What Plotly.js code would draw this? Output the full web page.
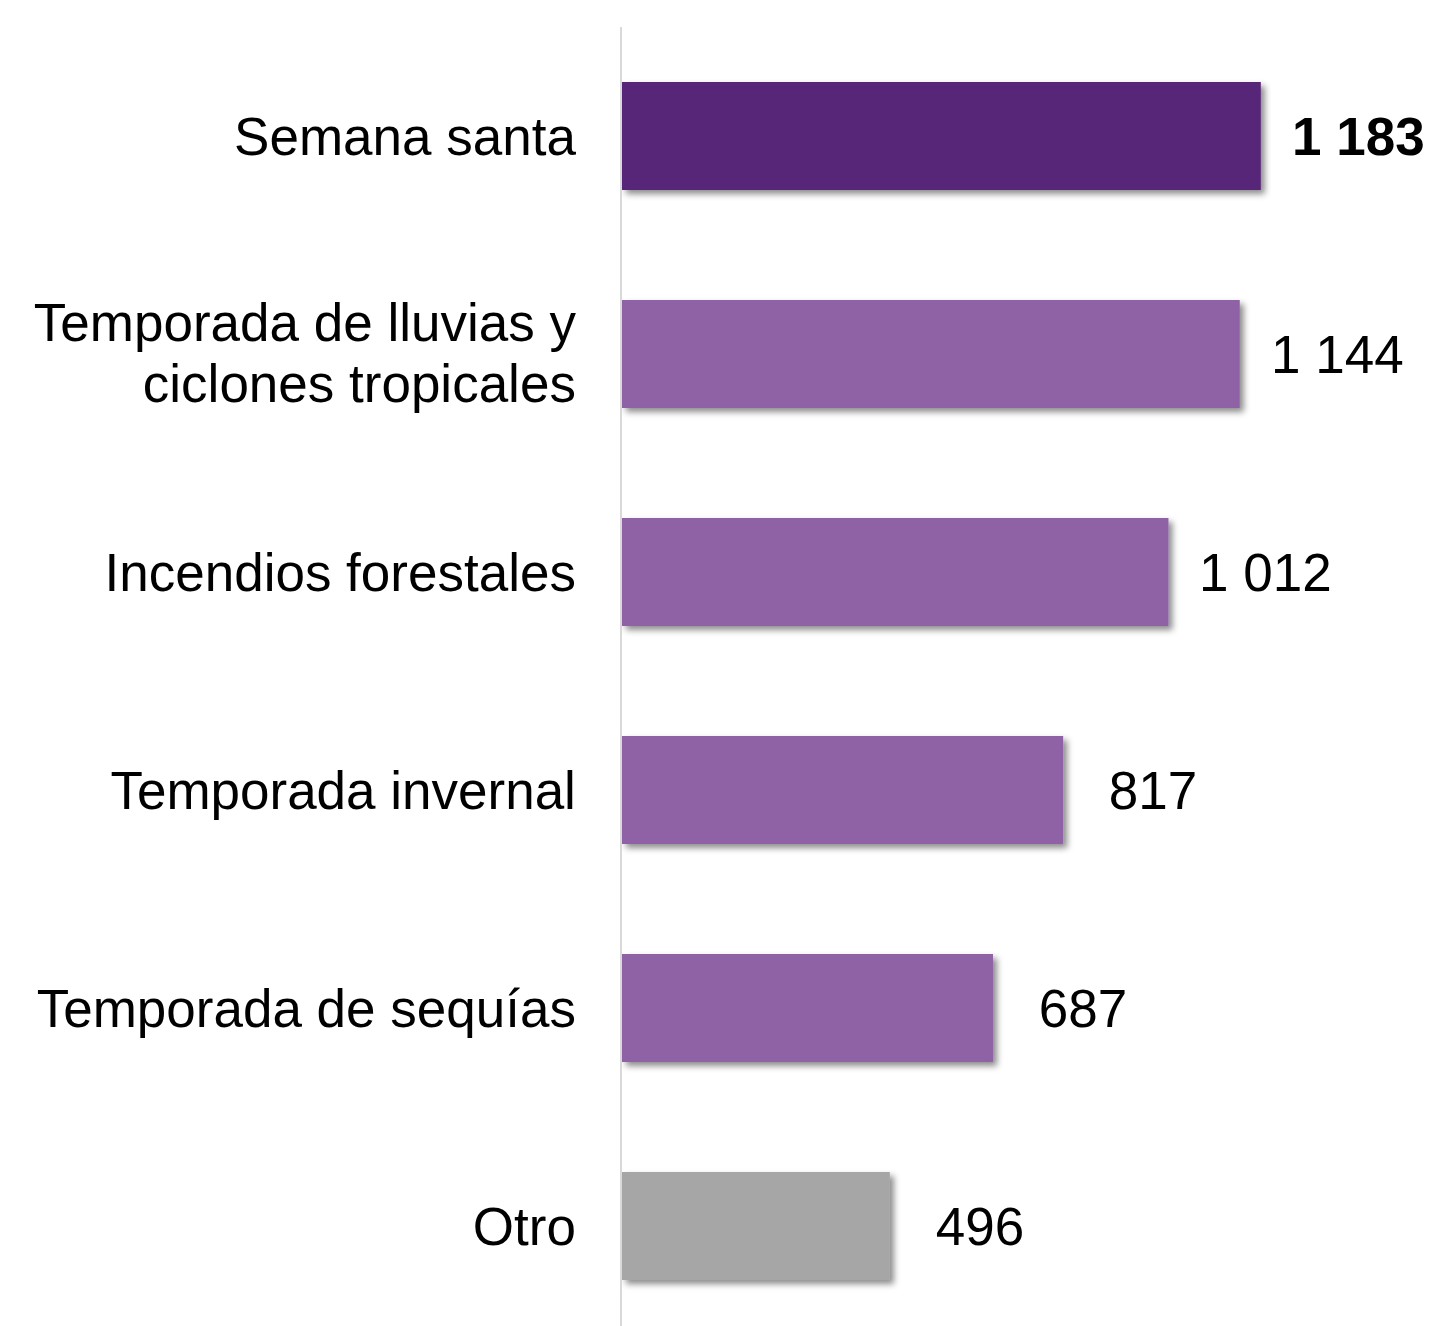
<!DOCTYPE html>
<html>
<head>
<meta charset="utf-8">
<script src="https://cdn.plot.ly/plotly-3.0.1.min.js"></script>
<style>
  html, body { margin: 0; padding: 0; background: #fff; }
  #chart { width: 1435px; height: 1326px; }
</style>
</head>
<body>
<div id="chart"></div>
<script>
// Data (top to bottom as in the picture)
const categories = [
  "Semana santa",
  "Temporada de lluvias y<br>ciclones tropicales",
  "Incendios forestales",
  "Temporada invernal",
  "Temporada de sequías",
  "Otro"
];
const values = [1183, 1144, 1012, 817, 687, 496];
const barColors = ["#582578", "#8E62A4", "#8E62A4", "#8E62A4", "#8E62A4", "#A6A6A6"];
const boldFlags = [true, false, false, false, false, false];

function fmt(v) {
  if (v >= 1000) {
    return Math.floor(v / 1000) + " " + String(v % 1000).padStart(3, "0");
  }
  return "\u00A0" + v;
}

// Plotly draws first category at bottom; reverse for bottom-to-top order
const cats = categories.slice().reverse();
const vals = values.slice().reverse();
const cols = barColors.slice().reverse();
const bolds = boldFlags.slice().reverse();

const FONT = "Liberation Sans, Arial, sans-serif";

const trace = {
  type: "bar",
  orientation: "h",
  y: cats,
  x: vals,
  marker: { color: cols, line: { width: 0 } },
  hoverinfo: "none",
  cliponaxis: false
};

const annotations = vals.map((v, i) => ({
  x: v,
  y: cats[i],
  xref: "x",
  yref: "y",
  text: bolds[i] ? "<b>" + fmt(v) + "</b>" : fmt(v),
  showarrow: false,
  xanchor: "left",
  yanchor: "middle",
  xshift: 29,
  font: { family: FONT, size: 53, color: "#000" }
}));

const layout = {
  width: 1435,
  height: 1326,
  margin: { l: 622, r: 3, t: 27, b: 0 },
  paper_bgcolor: "#fff",
  plot_bgcolor: "#fff",
  showlegend: false,
  bargap: 0.505,
  font: { family: FONT, size: 53, color: "#000" },
  xaxis: {
    range: [0, 1500],
    visible: false,
    showgrid: false,
    zeroline: false,
    fixedrange: true
  },
  yaxis: {
    type: "category",
    range: [-0.4587, 5.5],
    showline: true,
    linecolor: "#D9D9D9",
    linewidth: 2.5,
    ticks: "",
    showgrid: false,
    zeroline: false,
    ticklabelstandoff: 33,
    tickfont: { family: FONT, size: 53, color: "#000" },
    fixedrange: true
  },
  annotations: annotations
};

Plotly.newPlot("chart", [trace], layout, { displayModeBar: false, staticPlot: true }).then(function () {
  const svg = document.querySelector("#chart .main-svg");
  const ns = "http://www.w3.org/2000/svg";
  let defs = svg.querySelector("defs");
  if (!defs) { defs = document.createElementNS(ns, "defs"); svg.insertBefore(defs, svg.firstChild); }
  const filter = document.createElementNS(ns, "filter");
  filter.setAttribute("id", "barShadow");
  filter.setAttribute("x", "-10%");
  filter.setAttribute("y", "-20%");
  filter.setAttribute("width", "130%");
  filter.setAttribute("height", "150%");
  const ds = document.createElementNS(ns, "feDropShadow");
  ds.setAttribute("dx", "4");
  ds.setAttribute("dy", "4");
  ds.setAttribute("stdDeviation", "3");
  ds.setAttribute("flood-color", "#000");
  ds.setAttribute("flood-opacity", "0.45");
  filter.appendChild(ds);
  defs.appendChild(filter);
  document.querySelectorAll("#chart .bars .point path").forEach(function (p) {
    p.setAttribute("filter", "url(#barShadow)");
  });
  // tighter line spacing for the two-line category label
  document.querySelectorAll("#chart .ytick text").forEach(function (t) {
    const lines = t.querySelectorAll("tspan.line");
    if (lines.length === 2) {
      lines[0].setAttribute("dy", "0.06em");
      lines[1].setAttribute("dy", "1.2em");
    }
  });
});
</script>
</body>
</html>
